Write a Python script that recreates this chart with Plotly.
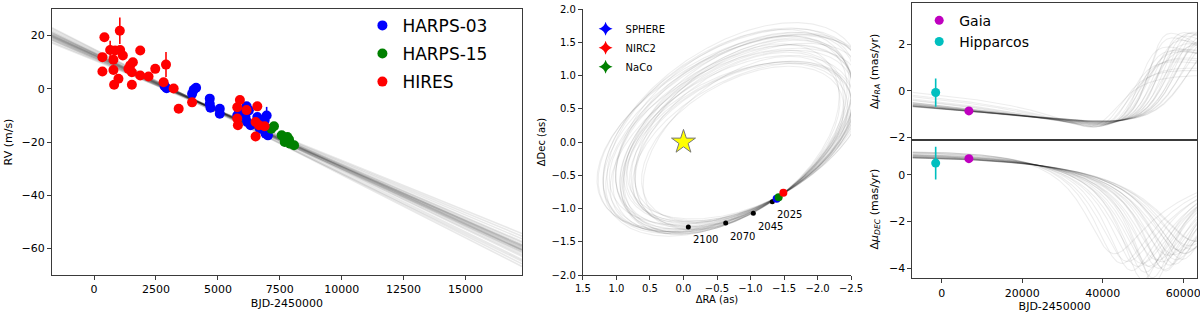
import numpy as np
import plotly.graph_objects as go

# ---------------- RV data (BJD-2450000, m/s) ----------------
hires_t = [418, 1040, 337, 650, 851, 1053, 1162, 782, 337, 782, 985, 810, 1527, 1390, 1568, 1527, 1864, 1864,
           2200, 2471, 2808, 2905, 3214, 3417, 3959, 5782, 5889, 5782, 5808, 6159, 6592, 6523, 6523, 6659, 6888, 1459]
hires_rv = [19.4, 21.8, 11.9, 14.6, 14.4, 14.6, 12.5, 10.9, 6.5, 7.1, 3.8, 1.5, 1.5, 7.5, 10.0, 6.2, 14.4, 5.0,
            4.6, 7.5, 2.5, 9.1, 0.1, -7.5, -5.1, -6.9, -4.2, -11.2, -13.7, -8.0, -6.6, -12.5, -17.9, -13.7, -14.1, 8.8]
hires_err = [1.5, 5.0, 1.5, 3.5, 1.5, 1.5, 1.5, 1.5, 1.5, 1.5, 1.5, 1.5, 1.5, 1.5, 1.5, 1.5, 1.5, 1.5,
             1.5, 1.5, 1.5, 4.7, 1.5, 1.5, 1.5, 1.5, 1.5, 1.5, 1.5, 1.5, 1.5, 1.5, 1.5, 1.5, 1.5, 1.5]
harps03_t = [2850, 2930, 4024, 4120, 3959, 4672, 4672, 4700, 5077, 5077, 5782, 5850, 6159, 6252, 6118, 6187,
             6321, 6592, 6697, 6969, 6888, 6928, 7022, 6697]
harps03_rv = [1.0, 0.2, -0.4, 0.4, -1.9, -3.7, -5.6, -7.1, -7.5, -9.4, -10.0, -9.0, -6.6, -8.1, -10.6, -12.5,
              -13.7, -10.6, -13.1, -10.0, -11.9, -16.9, -17.5, -15.0]
harps03_err = [1.0] * 19 + [3.2] + [1.0] * 4
harps15_t = [7265, 7159, 7577, 7808, 7699, 7914, 8076, 7873]
harps15_rv = [-14.1, -15.0, -17.5, -18.1, -20.0, -20.6, -21.2, -19.1]
harps15_err = [1.0] * 8

# straight RV trend samples: value at the two ends of the plotted span
rv_line_x = [-1700, 17280]
rv_line_start = [19.8, 20.3, 19.4, 21.0, 18.8, 20.6, 19.1, 22.0, 18.2, 20.0, 19.6, 21.5, 17.6, 20.4, 19.2,
                 22.6, 18.5, 20.9, 19.9, 21.2, 17.2, 20.1, 19.5, 23.0, 18.4]
rv_line_end = [-59.9, -61.0, -59.3, -62.4, -57.8, -60.6, -58.9, -64.2, -56.4, -61.3, -59.7, -63.0, -55.4, -60.3,
               -60.6, -65.8, -57.4, -61.7, -59.2, -64.8, -54.4, -60.5, -58.5, -66.8, -58.8]

# ---------------- relative astrometry (arcsec) ----------------
sphere_ra, sphere_dec, sphere_epoch = [-1.39], [-0.853], [2019.5]
nirc2_ra, nirc2_dec, nirc2_epoch = [-1.49], [-0.762], [2012.0]
naco_ra, naco_dec, naco_epoch = [-1.42], [-0.83], [2018.0]
star_ra, star_dec = [0.0], [0.0]
year_labels = ["2025", "2045", "2070", "2100"]
year_vals = [2025, 2045, 2070, 2100]
year_ra = [-1.325, -1.042, -0.63, -0.072]
year_dec = [-0.898, -1.072, -1.218, -1.278]
year_weight = [1.0, 1.0, 0.7, 0.5]

# sky-orbit samples: centre (as), semi-axes (as), tilt of major axis (deg); each is scaled to pass through the
# astrometric anchor point
ell_anchor = (-1.45, -0.80)
ell_cx = [-0.800, -0.825, -0.758, -0.850, -0.733, -0.808, -0.775, -0.876, -0.750, -0.817, -0.716, -0.842, -0.792,
          -0.884, -0.741, -0.800, -0.766, -0.859, -0.724, -0.796, -0.834, -0.758, -0.867, -0.783, -0.804, -0.729,
          -0.855, -0.787, -0.821, -0.754]
ell_cy = [0.078, 0.044, 0.134, 0.011, 0.168, 0.067, 0.112, -0.023, 0.145, 0.056, 0.190, 0.022, 0.089, -0.034,
          0.156, 0.078, 0.123, 0.000, 0.179, 0.084, 0.033, 0.134, -0.012, 0.100, 0.072, 0.173, 0.005, 0.095, 0.050,
          0.140]
ell_a = [1.950, 1.938, 2.020, 1.886, 2.102, 2.026, 1.952, 1.764, 2.144, 1.822, 2.210, 1.770, 2.064, 1.680, 2.188,
         1.850, 2.086, 1.732, 2.166, 2.042, 1.814, 2.130, 1.668, 2.028, 1.878, 2.204, 1.894, 1.916, 1.910, 2.062]
ell_b = [1.090, 1.087, 1.140, 1.024, 1.278, 1.029, 1.153, 0.946, 1.126, 1.088, 1.250, 0.995, 1.151, 0.960, 1.172,
         1.150, 1.109, 0.993, 1.264, 1.083, 1.071, 1.140, 0.962, 1.152, 1.037, 1.241, 1.046, 1.084, 1.050, 1.223]
ell_tilt = [-32, -27.5, -35, -26, -36.5, -30.5, -38, -29, -27.5, -33.5, -35, -24.5, -36.5, -30.5, -29, -39.5, -32,
            -27.5, -33.5, -26, -35, -30.5, -38, -29, -36.5, -32, -27.5, -35, -30.5, -33.5]

# ---------------- proper-motion anomaly (mas/yr) ----------------
gaia_x, gaia_pmra, gaia_pmdec, gaia_err = [6760], [-0.87], [0.70], [0.05]
hip_x, hip_pmra, hip_pmra_err, hip_pmdec, hip_pmdec_err = [-1490], [-0.08], [0.61], [0.51], [0.70]

# orbit samples used for the proper-motion curves: periastron epoch, period (yr), eccentricity
samp_tp = [2108, 2114, 2118, 2122, 2126, 2129, 2132, 2134, 2136, 2138, 2140, 2142, 2144, 2146, 2148, 2150, 2152,
           2154, 2156, 2158, 2160, 2162, 2164, 2166, 2168, 2139, 2147, 2153, 2131, 2159]
samp_P = [420, 430, 440, 440, 450, 450, 460, 460, 470, 440, 480, 460, 470, 490, 480, 460, 500, 480, 490, 500, 480,
          510, 500, 520, 500, 450, 470, 490, 450, 520]
samp_e = [0.60, 0.62, 0.61, 0.64, 0.63, 0.62, 0.66, 0.64, 0.65, 0.68, 0.63, 0.66, 0.64, 0.68, 0.62, 0.66, 0.63,
          0.65, 0.61, 0.66, 0.63, 0.60, 0.62, 0.58, 0.58, 0.70, 0.68, 0.67, 0.68, 0.64]


def year_of(x):
    return 1995.77 + np.asarray(x, float) / 365.25


def ecc_anom(M, e):
    E = M + e * np.sin(M)
    for _ in range(60):
        E = E - (E - e * np.sin(E) - M) / (1 - e * np.cos(E))
    return E


def basis(t, P, e, tp):
    E = ecc_anom(2 * np.pi * (np.asarray(t, float) - tp) / P, e)
    s1 = np.sqrt(1 - e * e)
    Ed = 2 * np.pi / P / (1 - e * np.cos(E))
    return np.cos(E) - e, s1 * np.sin(E), -np.sin(E) * Ed, s1 * np.cos(E) * Ed


fit_t = np.array(nirc2_epoch + naco_epoch + sphere_epoch + year_vals, float)
fit_ra = np.array(nirc2_ra + naco_ra + sphere_ra + year_ra)
fit_de = np.array(nirc2_dec + naco_dec + sphere_dec + year_dec)
fit_w = np.array([1.0, 1.0, 1.0] + year_weight)


def fit_orbit(P, e, tp):
    X, Y, _, _ = basis(fit_t, P, e, tp)
    D = np.vstack([X, Y]).T * np.sqrt(fit_w)[:, None]
    B, G = np.linalg.lstsq(D, fit_ra * np.sqrt(fit_w), rcond=None)[0]
    A, F = np.linalg.lstsq(D, fit_de * np.sqrt(fit_w), rcond=None)[0]
    tt = year_of(gaia_x + hip_x)
    _, _, Xd, Yd = basis(tt, P, e, tp)
    vr = (B * Xd + G * Yd) * 1000
    vd = (A * Xd + F * Yd) * 1000
    obs_r = np.array(gaia_pmra + hip_pmra); sr = np.array(gaia_err + hip_pmra_err)
    obs_d = np.array(gaia_pmdec + hip_pmdec); sd = np.array(gaia_err + hip_pmdec_err)
    k = -((obs_r * vr / sr ** 2).sum() + (obs_d * vd / sd ** 2).sum()) / ((vr ** 2 / sr ** 2).sum() + (vd ** 2 / sd ** 2).sum())
    return B, G, A, F, k


def sky_ellipse(cx, cy, a, b, tilt, n=361):
    th = np.radians(tilt)
    u = np.array([np.cos(th), np.sin(th)]); w = np.array([-np.sin(th), np.cos(th)])
    d = np.array(ell_anchor) - [cx, cy]
    s = np.sqrt((d @ u / a) ** 2 + (d @ w / b) ** 2)
    t = np.linspace(0, 2 * np.pi, n)
    x = cx + s * (a * np.cos(t) * u[0] + b * np.sin(t) * w[0])
    y = cy + s * (a * np.cos(t) * u[1] + b * np.sin(t) * w[1])
    return x, y


fig = go.Figure()
line_col = "rgba(0,0,0,0.09)"
orb_col = "rgba(0,0,0,0.07)"

# ---- left panel: RV ----
for a, b in zip(rv_line_start, rv_line_end):
    fig.add_trace(go.Scatter(x=rv_line_x, y=[a, b], mode="lines", line=dict(color=line_col, width=1.6),
                             showlegend=False, hoverinfo="skip", xaxis="x", yaxis="y"))

for name, t, v, er, col in [("HARPS-03", harps03_t, harps03_rv, harps03_err, "#0000ff"),
                             ("HARPS-15", harps15_t, harps15_rv, harps15_err, "#008000"),
                             ("HIRES", hires_t, hires_rv, hires_err, "#ff0000")]:
    fig.add_trace(go.Scatter(x=t, y=v, mode="markers", name=name, legendgroup=name,
                             marker=dict(color=col, size=10),
                             error_y=dict(type="data", array=er, color=col, thickness=1.6, width=0),
                             xaxis="x", yaxis="y", legend="legend"))

# ---- middle panel: sky orbits ----
for cx, cy, a, b, tl in zip(ell_cx, ell_cy, ell_a, ell_b, ell_tilt):
    ex, ey = sky_ellipse(cx, cy, a, b, tl)
    fig.add_trace(go.Scatter(x=ex, y=ey, mode="lines", line=dict(color=orb_col, width=1.1),
                             showlegend=False, hoverinfo="skip", xaxis="x2", yaxis="y2"))

# ---- right panels: proper-motion curves ----
xg = np.linspace(-7250, 63400, 600)
tg = year_of(xg)
for P, e, tp in zip(samp_P, samp_e, samp_tp):
    B, G, A, F, k = fit_orbit(P, e, tp)
    _, _, Xd, Yd = basis(tg, P, e, tp)
    pmra = -k * 1000 * (B * Xd + G * Yd)
    pmde = -k * 1000 * (A * Xd + F * Yd)
    fig.add_trace(go.Scatter(x=xg, y=pmra, mode="lines", line=dict(color=orb_col, width=1.1),
                             showlegend=False, hoverinfo="skip", xaxis="x3", yaxis="y3"))
    fig.add_trace(go.Scatter(x=xg, y=pmde, mode="lines", line=dict(color=orb_col, width=1.1),
                             showlegend=False, hoverinfo="skip", xaxis="x4", yaxis="y4"))

# ---- middle panel markers ----
fig.add_trace(go.Scatter(x=year_ra, y=year_dec, mode="markers", marker=dict(color="black", size=5),
                         showlegend=False, hoverinfo="skip", xaxis="x2", yaxis="y2"))
for lab, x0, y0 in zip(year_labels, year_ra, year_dec):
    fig.add_annotation(x=x0, y=y0, xref="x2", yref="y2", text=lab, showarrow=False, xshift=17, yshift=-13,
                       font=dict(size=10, color="black"))
fig.add_trace(go.Scatter(x=star_ra, y=star_dec, mode="markers",
                         marker=dict(symbol="star", size=18, color="#ffff00", line=dict(color="#777777", width=1)),
                         showlegend=False, hoverinfo="skip", xaxis="x2", yaxis="y2"))
for name, xr, yd, col in [("SPHERE", sphere_ra, sphere_dec, "#0000ff"), ("NaCo", naco_ra, naco_dec, "#008000"),
                          ("NIRC2", nirc2_ra, nirc2_dec, "#ff0000")]:
    fig.add_trace(go.Scatter(x=xr, y=yd, mode="markers", marker=dict(color=col, size=8),
                             error_x=dict(type="constant", value=0.01, color=col, width=0),
                             error_y=dict(type="constant", value=0.01, color=col, width=0),
                             showlegend=False, hoverinfo="skip", xaxis="x2", yaxis="y2"))
for name, col in [("SPHERE", "#0000ff"), ("NIRC2", "#ff0000"), ("NaCo", "#008000")]:
    fig.add_trace(go.Scatter(x=[None], y=[None], mode="markers", name=name, legendgroup="m" + name,
                             marker=dict(symbol="star-diamond", size=10, color=col),
                             xaxis="x2", yaxis="y2", legend="legend2"))

# ---- right panels data ----
for ax, gy, hy, her, show in [("3", gaia_pmra, hip_pmra, hip_pmra_err, True), ("4", gaia_pmdec, hip_pmdec, hip_pmdec_err, False)]:
    fig.add_trace(go.Scatter(x=gaia_x, y=gy, mode="markers", name="Gaia", legendgroup="gaia", showlegend=show,
                             marker=dict(color="#bf00bf", size=9),
                             error_y=dict(type="data", array=gaia_err, color="#bf00bf", thickness=1.6, width=0),
                             xaxis="x" + ax, yaxis="y" + ax, legend="legend3"))
    fig.add_trace(go.Scatter(x=hip_x, y=hy, mode="markers", name="Hipparcos", legendgroup="hip", showlegend=show,
                             marker=dict(color="#00bfbf", size=9),
                             error_y=dict(type="data", array=her, color="#00bfbf", thickness=1.6, width=0),
                             xaxis="x" + ax, yaxis="y" + ax, legend="legend3"))

frame = dict(showline=True, linecolor="#3a3a3a", linewidth=1.1, ticks="outside", ticklen=4, tickcolor="#3a3a3a",
             showgrid=False, zeroline=False, automargin=False, ticklabeloverflow="allow")
f11 = dict(size=11, color="black")
f10 = dict(size=10, color="black")
ydom = [0.1242, 0.9713]
fig.update_layout(
    template="none",
    width=1200, height=314, margin=dict(l=0, r=0, t=0, b=0, pad=0, autoexpand=False),
    paper_bgcolor="white", plot_bgcolor="white",
    font=dict(family="DejaVu Sans", color="black"),
    xaxis=dict(domain=[0.0433, 0.435], range=[-1700, 17280], tickvals=[0, 2500, 5000, 7500, 10000, 12500, 15000],
               tickformat="d", mirror=True, tickfont=f11, title=dict(text="BJD-2450000", font=f11, standoff=4),
               anchor="y", **frame),
    yaxis=dict(domain=ydom, range=[-70, 30], tickvals=[-60, -40, -20, 0, 20], mirror=True, tickfont=f11,
               title=dict(text="RV (m/s)", font=f11, standoff=6), anchor="x", **frame),
    xaxis2=dict(domain=[0.4858, 0.7092], range=[1.5, -2.5], tickvals=[1.5, 1.0, 0.5, 0.0, -0.5, -1.0, -1.5, -2.0, -2.5],
                tickformat=".1f", tickfont=f10, title=dict(text="ΔRA (as)", font=f10, standoff=2), anchor="y2", **frame),
    yaxis2=dict(domain=ydom, range=[-2, 2], tickvals=[-2, -1.5, -1, -0.5, 0, 0.5, 1, 1.5, 2], tickformat=".1f",
                tickfont=f10, title=dict(text="ΔDec (as)", font=f10, standoff=4), anchor="x2", **frame),
    xaxis3=dict(domain=[0.7604, 0.9975], range=[-7250, 63400], showticklabels=False, mirror=True, anchor="y3",
                **{**frame, "ticks": ""}),
    yaxis3=dict(domain=[0.5541, 0.9914], range=[-2.125, 3.79], tickvals=[-2, 0, 2], mirror=True, tickfont=f11,
                title=dict(text="Δ<i>μ</i><sub><i>RA</i></sub> (mas/yr)", font=f11, standoff=8), anchor="x3", **frame),
    xaxis4=dict(domain=[0.7604, 0.9975], range=[-7250, 63400], tickvals=[0, 20000, 40000, 60000], tickformat="d",
                mirror=True, tickfont=f11, title=dict(text="BJD-2450000", font=f11, standoff=2), anchor="y4", **frame),
    yaxis4=dict(domain=[0.1137, 0.5541], range=[-4.43, 1.5], tickvals=[-4, -2, 0], mirror=True, tickfont=f11,
                title=dict(text="Δ<i>μ</i><sub><i>DEC</i></sub> (mas/yr)", font=f11, standoff=8), anchor="x4", **frame),
    legend=dict(x=0.302, y=0.975, xanchor="left", yanchor="top", font=dict(size=17), bgcolor="rgba(0,0,0,0)",
                traceorder="grouped", tracegroupgap=3, itemwidth=30),
    legend2=dict(x=0.488, y=0.955, xanchor="left", yanchor="top", font=dict(size=10), bgcolor="rgba(0,0,0,0)",
                 traceorder="grouped", tracegroupgap=0, itemwidth=30),
    legend3=dict(x=0.766, y=0.985, xanchor="left", yanchor="top", font=dict(size=14), bgcolor="rgba(0,0,0,0)",
                 traceorder="grouped", tracegroupgap=0, itemwidth=30),
)
fig.write_html("out.html", config={"displayModeBar": False},
               post_script="document.body.style.margin='0px';document.body.style.overflow='hidden';")
